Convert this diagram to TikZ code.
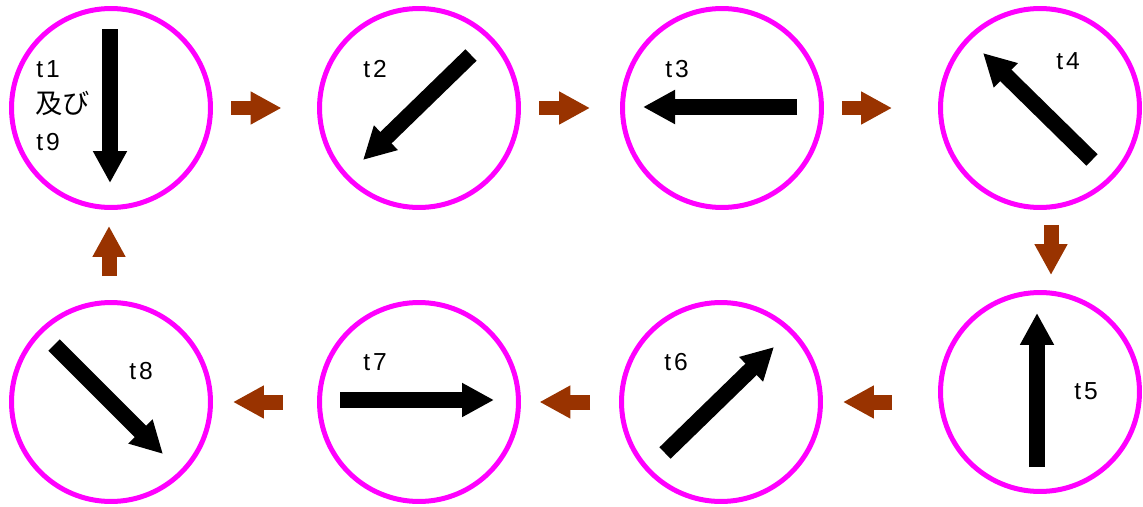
\documentclass[tikz,border=0pt]{standalone}
\usepackage{fontspec}
\setmainfont{Liberation Sans}
\newfontfamily\jpfont{Noto Sans CJK JP}
\usetikzlibrary{arrows.meta}
\definecolor{ringmagenta}{HTML}{FF00FF}
\definecolor{stepbrown}{HTML}{993300}
\tikzset{
  ring/.style={
    circle,
    draw=ringmagenta,
    line width=0.1cm,
    minimum size=3.98cm,
    inner sep=0pt,
    outer sep=0pt
  },
  needle/.style={
    -{Triangle[length=0.64cm,width=0.64cm]},
    line width=0.32cm,
    draw=black
  },
  flowarrow/.style={
    -{Triangle[length=0.62cm,width=0.62cm]},
    line width=0.3cm,
    color=stepbrown
  },
  tlabel/.style={
    anchor=base west,
    inner sep=0pt,
    font=\addfontfeatures{LetterSpace=12}\fontsize{14pt}{16pt}\selectfont
  }
}

\begin{document}
\begin{tikzpicture}[x=0.02cm, y=-0.02cm]
  \useasboundingbox (0,0) rectangle (1143,507);

  % dial positions
  \node[ring] (c1) at (111,108) {};
  \node[ring] (c2) at (419,108) {};
  \node[ring] (c3) at (722,108) {};
  \node[ring] (c4) at (1040,108) {};
  \node[ring] (c5) at (1040,392) {};
  \node[ring] (c6) at (721,402) {};
  \node[ring] (c7) at (419,402) {};
  \node[ring] (c8) at (111,402) {};

  % needles
  \draw[needle] (110,29) -- (110,183);
  \draw[needle] (471,55) -- (363,160);
  \draw[needle] (797,107) -- (643,107);
  \draw[needle] (1092,160) -- (983,53);
  \draw[needle] (1037,467) -- (1037,313);
  \draw[needle] (665,453) -- (774,347);
  \draw[needle] (340,400) -- (494,400);
  \draw[needle] (54,345) -- (163,454);

  % labels
  \node[tlabel] (l1) at (36,77) {t1};
  \node[tlabel, font=\jpfont\fontsize{15.5pt}{17pt}\selectfont] (l19) at (35,113) {及び};
  \node[tlabel] (l9) at (36,150) {t9};
  \node[tlabel] (l2) at (363,77) {t2};
  \node[tlabel] (l3) at (665,77) {t3};
  \node[tlabel] (l4) at (1056,70) {t4};
  \node[tlabel] (l5) at (1074,399) {t5};
  \node[tlabel] (l6) at (664,370) {t6};
  \node[tlabel] (l7) at (363,370) {t7};
  \node[tlabel] (l8) at (129,379) {t8};

  % sequence
  \draw[flowarrow, shorten <=0.42cm, shorten >=0.76cm] (c1.east) -- (c2.west);
  \draw[flowarrow, shorten <=0.42cm, shorten >=0.65cm] (c2.east) -- (c3.west);
  \draw[flowarrow, shorten <=0.41cm, shorten >=0.97cm] (c3.east) -- (c4.west);
  \draw[flowarrow, shorten <=0.35cm, shorten >=0.35cm] ([xshift=0.22cm]c4.south) -- ([xshift=0.22cm]c5.north);
  \draw[flowarrow, shorten <=0.97cm, shorten >=0.45cm] (c5.west |- c6.east) -- (c6.east);
  \draw[flowarrow, shorten <=0.63cm, shorten >=0.42cm] (c6.west) -- (c7.east);
  \draw[flowarrow, shorten <=0.74cm, shorten >=0.45cm] (c7.west) -- (c8.east);
  \draw[flowarrow, shorten <=0.53cm, shorten >=0.37cm] ([xshift=-0.04cm]c8.north) -- ([xshift=-0.04cm]c1.south);
\end{tikzpicture}
\end{document}
